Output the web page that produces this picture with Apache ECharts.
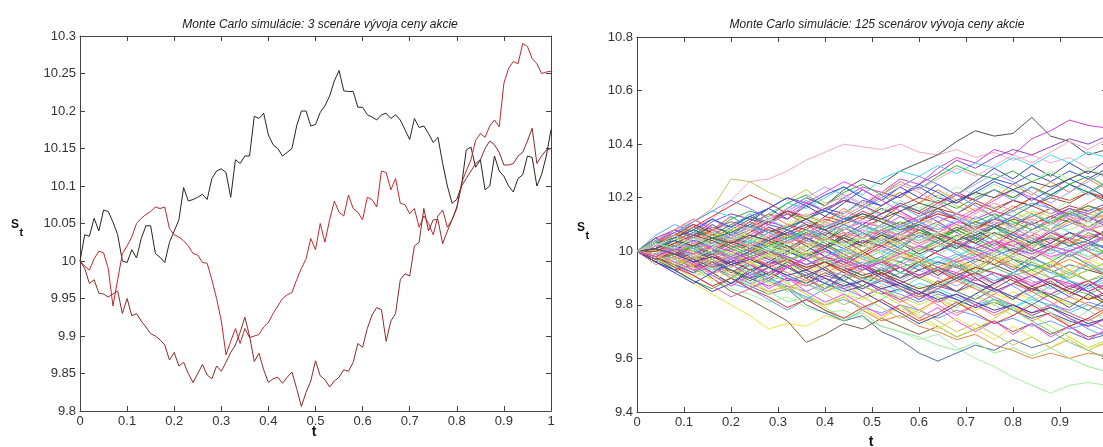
<!DOCTYPE html>
<html><head><meta charset="utf-8">
<script src="https://cdn.jsdelivr.net/npm/echarts@6/dist/echarts.min.js"></script>
<style>html,body{margin:0;padding:0;background:#fff}#c{width:1103px;height:447px}</style>
</head><body><div id="c"></div>
<script>
const leftTitle = 'Monte Carlo simulácie: 3 scenáre vývoja ceny akcie';
const rightTitle = 'Monte Carlo simulácie: 125 scenárov vývoja ceny akcie';
const xAxisName = 't';
const yAxisName = ['S', 't'];

const tLeft = [0,0.01,0.02,0.03,0.04,0.05,0.06,0.07,0.08,0.09,0.1,0.11,0.12,0.13,0.14,0.15,0.16,0.17,0.18,0.19,0.2,0.21,0.22,0.23,0.24,0.25,0.26,0.27,0.28,0.29,0.3,0.31,0.32,0.33,0.34,0.35,0.36,0.37,0.38,0.39,0.4,0.41,0.42,0.43,0.44,0.45,0.46,0.47,0.48,0.49,0.5,0.51,0.52,0.53,0.54,0.55,0.56,0.57,0.58,0.59,0.6,0.61,0.62,0.63,0.64,0.65,0.66,0.67,0.68,0.69,0.7,0.71,0.72,0.73,0.74,0.75,0.76,0.77,0.78,0.79,0.8,0.81,0.82,0.83,0.84,0.85,0.86,0.87,0.88,0.89,0.9,0.91,0.92,0.93,0.94,0.95,0.96,0.97,0.98,0.99,1];

const leftBlack = [10,10.035,10.033,10.057,10.04,10.068,10.066,10.052,10.035,10,
9.998,10.015,10.004,10.03,10.047,10.047,10.01,10.005,9.998,10.025,
10.04,10.055,10.098,10.08,10.082,10.085,10.089,10.082,10.11,10.12,
10.123,10.118,10.085,10.135,10.13,10.14,10.14,10.193,10.19,10.197,
10.168,10.155,10.15,10.14,10.145,10.15,10.18,10.2,10.2,10.18,
10.182,10.198,10.207,10.22,10.24,10.254,10.227,10.226,10.226,10.205,
10.205,10.195,10.192,10.188,10.195,10.197,10.19,10.195,10.188,10.175,
10.162,10.19,10.178,10.18,10.17,10.158,10.165,10.13,10.1,10.077,
10.082,10.1,10.148,10.152,10.125,10.135,10.095,10.1,10.14,10.12,
10.113,10.1,10.092,10.11,10.115,10.14,10.138,10.1,10.115,10.14,10.175];

const leftRed = [10,9.993,9.988,10.003,10.013,10.011,9.99,9.94,9.975,10.01,
10.02,10.032,10.05,10.057,10.062,10.066,10.072,10.07,10.072,10.043,
10.035,10.032,10.027,10.02,10.01,10.008,9.998,9.997,9.975,9.95,
9.92,9.875,9.893,9.91,9.89,9.91,9.898,9.9,9.902,9.912,
9.918,9.93,9.94,9.95,9.955,9.958,9.975,9.99,10.003,10.03,
10.015,10.05,10.025,10.055,10.08,10.065,10.06,10.088,10.07,10.065,
10.055,10.085,10.082,10.072,10.12,10.118,10.095,10.11,10.077,10.075,
10.063,10.07,10.045,10.06,10.05,10.035,10.06,10.068,10.045,10.055,
10.07,10.104,10.12,10.135,10.161,10.17,10.165,10.18,10.188,10.179,
10.237,10.257,10.266,10.263,10.29,10.286,10.27,10.263,10.25,10.252,10.253];

const leftDarkRed = [10,9.99,9.97,9.975,9.957,9.956,9.952,9.956,9.96,9.93,
9.95,9.927,9.93,9.92,9.912,9.903,9.9,9.895,9.888,9.868,
9.878,9.86,9.865,9.85,9.838,9.85,9.862,9.848,9.843,9.86,
9.853,9.865,9.878,9.888,9.905,9.925,9.9,9.866,9.877,9.855,
9.838,9.843,9.845,9.837,9.845,9.852,9.83,9.806,9.825,9.84,
9.867,9.847,9.842,9.832,9.84,9.845,9.855,9.853,9.865,9.89,
9.885,9.91,9.928,9.938,9.935,9.893,9.92,9.93,9.975,9.983,
9.98,10.02,10.025,10.07,10.04,10.055,10.055,10.023,10.04,10.055,
10.072,10.1,10.11,10.12,10.13,10.135,10.15,10.16,10.155,10.145,
10.128,10.128,10.13,10.14,10.145,10.16,10.177,10.13,10.14,10.148,10.15];

const tRight = [0,0.04,0.08,0.12,0.16,0.2,0.24,0.28,0.32,0.36,0.4,0.44,0.48,0.52,0.56,0.6,0.64,0.68,0.72,0.76,0.8,0.84,0.88,0.92,0.96,1];

const p1=[10,10.03,10.05,10.09,10.12,10.19,10.26,10.27,10.3,10.34,10.37,10.4,10.39,10.38,10.4,10.37,10.36,10.38,10.35,10.37,10.34,10.36,10.33,10.35,10.31,10.33];
const p2=[10,10.04,10.08,10.11,10.16,10.27,10.26,10.22,10.19,10.23,10.18,10.2,10.16,10.19,10.22,10.18,10.21,10.17,10.14,10.18,10.15,10.2,10.17,10.13,10.16,10.12];
const p3=[10,9.98,10.02,10.05,10.03,10.08,10.12,10.1,10.16,10.2,10.17,10.23,10.27,10.25,10.3,10.33,10.36,10.41,10.45,10.43,10.44,10.5,10.43,10.41,10.36,10.38];
const p4=[10,10.02,9.99,10.03,10.07,10.05,10.1,10.14,10.12,10.18,10.15,10.2,10.24,10.22,10.27,10.25,10.31,10.35,10.33,10.38,10.36,10.42,10.45,10.49,10.47,10.46];
const p5=[10,9.97,9.95,9.92,9.9,9.86,9.84,9.81,9.83,9.79,9.77,9.78,9.75,9.72,9.7,9.67,9.69,9.64,9.6,9.57,9.53,9.5,9.47,9.5,9.51,9.5];
const p6=[10,9.96,9.93,9.88,9.84,9.8,9.76,9.71,9.73,9.72,9.76,9.74,9.78,9.75,9.8,9.77,9.82,9.79,9.83,9.8,9.85,9.82,9.84,9.8,9.83,9.81];
const p7=[10,9.97,9.93,9.95,9.9,9.85,9.82,9.78,9.74,9.66,9.69,9.73,9.71,9.75,9.72,9.69,9.72,9.68,9.71,9.74,9.7,9.73,9.69,9.72,9.68,9.7];
const p8=[10,10.01,9.97,9.94,9.95,9.9,9.87,9.84,9.86,9.8,9.77,9.74,9.76,9.7,9.67,9.62,9.59,9.62,9.65,9.63,9.67,9.64,9.66,9.7,9.67,9.69];
const p9=[10,9.98,9.99,9.95,9.92,9.93,9.88,9.85,9.87,9.82,9.8,9.83,9.78,9.74,9.76,9.72,9.7,9.67,9.69,9.65,9.63,9.6,9.62,9.6,9.62,9.61];
const p10=[10,9.99,9.95,9.97,9.92,9.88,9.9,9.85,9.81,9.83,9.79,9.75,9.77,9.72,9.7,9.68,9.65,9.63,9.66,9.62,9.64,9.61,9.64,9.6,9.57,9.55];
const p11=[10,10.04,10.06,10.03,10.08,10.11,10.09,10.14,10.18,10.16,10.2,10.24,10.21,10.27,10.3,10.28,10.32,10.29,10.33,10.31,10.35,10.32,10.36,10.33,10.37,10.35];
const p12=[10,10.02,10.05,10.09,10.07,10.12,10.15,10.13,10.18,10.21,10.17,10.22,10.25,10.21,10.26,10.23,10.28,10.32,10.29,10.27,10.3,10.26,10.29,10.25,10.28,10.24];
const p13=[10,10.05,10.08,10.06,10.11,10.14,10.12,10.16,10.2,10.18,10.15,10.19,10.17,10.22,10.2,10.25,10.29,10.34,10.31,10.35,10.38,10.36,10.39,10.42,10.4,10.43];
const p14=[10,10.03,10.01,10.06,10.04,10.09,10.13,10.1,10.08,10.12,10.16,10.14,10.19,10.17,10.21,10.24,10.2,10.18,10.23,10.27,10.25,10.29,10.26,10.3,10.27,10.31];
const p15=[10,9.97,10.01,10.04,10.02,10.06,10.03,10.07,10.1,10.08,10.13,10.11,10.15,10.12,10.17,10.14,10.18,10.22,10.19,10.23,10.2,10.24,10.21,10.19,10.22,10.2];
const p16=[10,10.02,9.99,10.01,9.97,10,10.04,10.02,10.06,10.03,10.01,10.05,10.08,10.06,10.1,10.07,10.04,10.08,10.05,10.09,10.12,10.1,10.07,10.11,10.08,10.1];
const p17=[10,9.98,9.96,9.99,9.95,9.97,9.93,9.96,9.94,9.9,9.93,9.91,9.95,9.92,9.89,9.93,9.9,9.87,9.91,9.88,9.92,9.89,9.86,9.89,9.87,9.9];
const p18=[10,10.03,10.05,10.02,10.06,10.04,10.01,10.03,9.99,10.02,10.05,10.03,10.07,10.04,10.01,9.98,10.02,10,9.96,9.99,10.03,10,9.97,10.01,9.98,10];
const p19=[10,9.99,10.02,10,9.97,9.94,9.97,9.95,9.99,10.02,9.98,10.01,9.97,9.95,9.98,9.96,10,10.03,10.01,10.04,10.02,10.06,10.03,10.07,10.05,10.08];
const p20=[10,10.01,10.04,10.07,10.05,10.09,10.06,10.03,10.06,10.04,10.08,10.05,10.02,10.05,10.09,10.12,10.1,10.14,10.11,10.08,10.12,10.15,10.13,10.16,10.14,10.17];
const p21=[10,9.97,9.95,9.92,9.94,9.91,9.88,9.9,9.87,9.85,9.88,9.86,9.83,9.86,9.84,9.81,9.84,9.82,9.79,9.82,9.8,9.77,9.8,9.78,9.81,9.79];
const p22=[10,10.02,10,10.03,10.01,9.98,10.01,9.99,9.96,9.99,10.02,10,10.04,10.01,10.05,10.02,10.06,10.09,10.07,10.04,10.07,10.05,10.02,10.05,10.03,10.06];
const p23=[10,10.04,10.02,10.06,10.09,10.07,10.11,10.08,10.05,10.08,10.06,10.1,10.07,10.03,10.06,10.04,10.07,10.04,10,10.03,10,10.04,10.01,9.98,10.01,9.99];
const p24=[10,9.98,10.01,9.98,9.96,9.99,9.96,9.93,9.96,9.94,9.91,9.94,9.97,9.95,9.92,9.95,9.93,9.96,9.99,9.97,9.94,9.97,9.95,9.98,9.96,9.99];
const p25=[10,10.01,9.98,9.95,9.98,9.96,9.99,10.03,10,10.04,10.07,10.05,10.09,10.12,10.1,10.13,10.16,10.14,10.18,10.15,10.19,10.17,10.2,10.18,10.22,10.19];
const p26=[10,9.99,9.96,9.93,9.91,9.88,9.86,9.89,9.86,9.83,9.8,9.82,9.79,9.77,9.8,9.78,9.75,9.78,9.76,9.73,9.75,9.72,9.74,9.71,9.73,9.7];
const p27=[10,10.03,10.06,10.04,10.01,10.04,10.02,10.06,10.03,10.07,10.1,10.08,10.11,10.09,10.13,10.11,10.08,10.11,10.09,10.06,10.09,10.07,10.04,10.07,10.05,10.08];
const p28=[10,9.98,9.95,9.97,10,9.98,10.01,9.99,9.96,9.93,9.96,9.94,9.91,9.89,9.92,9.9,9.87,9.9,9.88,9.85,9.88,9.86,9.83,9.86,9.84,9.87];
const p29=[10,10.02,10.05,10.03,10.06,10.1,10.08,10.05,10.09,10.13,10.11,10.15,10.12,10.16,10.14,10.11,10.14,10.12,10.16,10.13,10.17,10.14,10.11,10.15,10.12,10.14];
const p30=[10,10,9.97,9.99,9.96,9.93,9.9,9.92,9.89,9.91,9.88,9.85,9.87,9.84,9.86,9.83,9.85,9.82,9.79,9.81,9.78,9.75,9.77,9.74,9.72,9.75];
const p31=[10,10.03,10.01,9.98,10.01,10.04,10.02,9.99,10.02,10,9.97,10,9.98,10.01,9.99,10.02,10.05,10.03,10,10.03,10.01,9.98,10.01,10.04,10.02,10.05];
const p32=[10,9.97,10,10.02,9.99,10.01,10.04,10.01,10.04,10.07,10.04,10.07,10.05,10.02,10.05,10.08,10.06,10.03,10.06,10.09,10.07,10.1,10.13,10.11,10.14,10.12];
const p33=[10,10.02,9.99,9.97,9.94,9.96,9.93,9.95,9.98,9.95,9.97,9.94,9.91,9.93,9.9,9.93,9.96,9.94,9.97,9.95,9.92,9.95,9.93,9.9,9.93,9.91];
const p34=[10,10.04,10.07,10.1,10.08,10.05,10.08,10.11,10.09,10.12,10.15,10.13,10.1,10.07,10.1,10.08,10.11,10.14,10.12,10.15,10.13,10.1,10.13,10.16,10.14,10.17];
const p35=[10,9.98,9.96,9.93,9.96,9.99,9.97,9.94,9.92,9.95,9.93,9.96,9.94,9.97,10,9.98,9.95,9.98,10.01,9.99,10.02,10,9.97,10,9.98,10.01];
const p36=[10,10.01,10.03,10,10.02,9.99,9.96,9.98,9.95,9.92,9.95,9.92,9.89,9.91,9.88,9.91,9.88,9.85,9.87,9.84,9.82,9.85,9.83,9.8,9.83,9.81];
const p37=[10,10.02,10.04,10.07,10.05,10.03,10.06,10.04,10.07,10.05,10.02,10.05,10.03,10.06,10.04,10.07,10.05,10.08,10.11,10.09,10.12,10.1,10.13,10.11,10.09,10.12];
const p38=[10,9.99,9.97,10,9.98,10.01,10.04,10.02,10,9.97,10,9.98,9.95,9.98,9.96,9.93,9.96,9.94,9.91,9.94,9.97,9.95,9.92,9.95,9.93,9.96];
const p39=[10,10.03,10,10.03,10.06,10.04,10.01,9.98,10.01,10.04,10.01,10.04,10.02,10.05,10.03,10,10.03,10.01,10.04,10.07,10.05,10.02,10.05,10.03,10.06,10.04];
const p40=[10,9.97,9.94,9.97,9.95,9.92,9.95,9.98,9.96,9.99,9.97,10,9.98,9.95,9.98,10.01,9.99,10.02,10,9.97,10,10.03,10.01,9.98,10.01,9.99];
const p41=[10,10.01,9.99,9.96,9.93,9.95,9.92,9.89,9.91,9.88,9.85,9.87,9.9,9.88,9.85,9.88,9.86,9.83,9.8,9.82,9.79,9.82,9.8,9.77,9.8,9.78];
const p42=[10,10.02,10.05,10.08,10.06,10.1,10.13,10.11,10.14,10.12,10.09,10.12,10.1,10.14,10.17,10.15,10.19,10.16,10.2,10.23,10.2,10.24,10.21,10.25,10.22,10.26];
const p43=[10,9.98,9.95,9.92,9.95,9.93,9.9,9.87,9.9,9.88,9.91,9.89,9.86,9.89,9.87,9.84,9.87,9.85,9.88,9.86,9.83,9.86,9.84,9.87,9.85,9.88];
const p44=[10,10.03,10.01,10.04,10.02,10.05,10.03,10,10.03,10.06,10.04,10.01,10.04,10.02,9.99,10.02,10,10.03,10.01,9.98,10.01,9.99,10.02,10,10.03,10.01];
const p45=[10,10,10.03,10.01,10.04,10.07,10.05,10.08,10.06,10.09,10.12,10.1,10.13,10.11,10.08,10.11,10.14,10.12,10.09,10.12,10.1,10.13,10.16,10.14,10.17,10.15];
const p46=[10,9.98,10,9.97,9.99,9.96,9.98,9.95,9.97,9.94,9.96,9.93,9.95,9.92,9.94,9.91,9.93,9.9,9.92,9.89,9.91,9.88,9.9,9.87,9.89,9.86];
const p47=[10,10.02,10.04,10.02,10.05,10.03,10.06,10.04,10.01,10.04,10.02,9.99,10.02,10,10.03,10.01,10.04,10.02,10.05,10.03,10.06,10.04,10.07,10.05,10.08,10.06];
const p48=[10,9.99,9.96,9.98,9.95,9.97,10,9.98,10.01,9.99,10.02,10,9.97,10,9.98,9.95,9.98,9.96,9.99,9.97,9.94,9.97,9.95,9.92,9.95,9.93];
const p49=[10,10.04,10.02,10.05,10.08,10.11,10.09,10.12,10.15,10.13,10.16,10.19,10.17,10.14,10.17,10.2,10.18,10.21,10.19,10.16,10.19,10.17,10.14,10.17,10.15,10.18];
const p50=[10,9.97,9.95,9.98,9.96,9.93,9.91,9.88,9.86,9.89,9.87,9.84,9.82,9.85,9.83,9.8,9.83,9.81,9.78,9.81,9.79,9.76,9.79,9.77,9.74,9.77];
const p51=[10,10.05,10.02,10.07,10.12,10.08,10.04,10.09,10.06,10.11,10.08,10.03,10.07,10.12,10.09,10.05,10.1,10.07,10.13,10.1,10.06,10.11,10.08,10.14,10.11,10.16];
const p52=[10,9.95,9.98,9.93,9.96,9.91,9.95,9.9,9.86,9.9,9.85,9.88,9.83,9.87,9.82,9.78,9.82,9.77,9.8,9.76,9.79,9.74,9.77,9.72,9.75,9.71];
const p53=[10,10.01,10.06,10.03,9.99,10.04,10,10.05,10.02,9.97,10.01,9.96,10,10.05,10.01,10.06,10.03,10.08,10.04,10.09,10.05,10.01,10.06,10.02,10.07,10.04];
const p54=[10,9.99,9.94,9.98,10.03,9.99,10.04,10.01,10.06,10.02,10.07,10.11,10.07,10.12,10.08,10.13,10.09,10.05,10.1,10.06,10.11,10.15,10.11,10.16,10.12,10.17];
const p55=[10,10.03,9.98,9.94,9.97,9.92,9.96,9.91,9.95,9.9,9.94,9.89,9.93,9.97,9.92,9.96,9.91,9.95,9.9,9.86,9.9,9.85,9.89,9.84,9.88,9.83];
const p56=[10,10.06,10.1,10.07,10.12,10.09,10.14,10.1,10.15,10.19,10.15,10.2,10.16,10.21,10.17,10.13,10.18,10.14,10.19,10.23,10.19,10.24,10.2,10.25,10.21,10.26];
const p57=[10,9.96,9.92,9.96,9.91,9.87,9.91,9.86,9.9,9.85,9.81,9.84,9.8,9.76,9.8,9.75,9.79,9.74,9.7,9.74,9.69,9.73,9.68,9.72,9.67,9.71];
const p58=[10,10.02,10.07,10.03,10.08,10.04,10,10.05,10.01,9.97,10.02,9.98,10.03,9.99,10.04,10,10.05,10.02,9.98,10.03,9.99,10.04,10,10.05,10.01,10.06];
const p59=[10,9.98,10.03,9.99,9.95,10,9.96,10.01,9.97,9.93,9.98,9.94,9.99,9.95,10,9.96,9.92,9.97,9.93,9.98,9.94,9.9,9.95,9.91,9.96,9.92];
const p60=[10,10.04,10,10.05,10.1,10.06,10.11,10.16,10.12,10.17,10.13,10.18,10.23,10.19,10.24,10.2,10.25,10.21,10.26,10.31,10.27,10.32,10.28,10.33,10.29,10.34];
const p61=[10,9.97,10.02,10.06,10.02,10.07,10.03,9.99,10.04,10,9.96,10.01,9.97,9.93,9.98,9.94,9.9,9.95,9.91,9.87,9.92,9.88,9.84,9.89,9.85,9.81];
const p62=[10,10.01,9.97,10.02,10.07,10.03,10.08,10.04,10.09,10.14,10.1,10.05,10.1,10.06,10.02,10.07,10.03,10.08,10.04,10,10.05,10.01,10.06,10.02,10.07,10.03];
const p63=[10,9.96,10.01,9.97,9.92,9.88,9.93,9.89,9.94,9.9,9.86,9.91,9.87,9.92,9.88,9.84,9.89,9.85,9.9,9.86,9.82,9.87,9.83,9.79,9.84,9.8];
const p64=[10,10.03,10.08,10.12,10.08,10.13,10.09,10.05,10.1,10.06,10.11,10.07,10.03,10.08,10.04,10.09,10.05,10.01,10.06,10.02,10.07,10.03,10.08,10.04,10.09,10.05];
const p65=[10,9.99,10.04,10,10.05,10.01,10.06,10.02,9.98,10.03,9.99,10.04,10,10.05,10.1,10.06,10.11,10.07,10.12,10.17,10.13,10.18,10.14,10.19,10.24,10.2];
const p66=[10,10.02,9.98,9.94,9.89,9.93,9.89,9.84,9.88,9.84,9.79,9.83,9.79,9.75,9.79,9.75,9.71,9.75,9.71,9.67,9.72,9.68,9.64,9.68,9.64,9.66];
const p67=[10,10.05,10.01,9.97,10.02,9.98,10.03,9.99,10.04,10.08,10.04,10.09,10.05,10.1,10.15,10.11,10.16,10.12,10.08,10.13,10.09,10.14,10.1,10.15,10.11,10.16];
const p68=[10,9.97,9.93,9.98,9.94,9.99,9.95,9.91,9.96,9.92,9.88,9.93,9.89,9.94,9.9,9.95,9.91,9.96,9.92,9.97,9.93,9.98,9.94,9.99,9.95,9.91];
const p69=[10,10.03,10.07,10.03,10.08,10.13,10.09,10.14,10.1,10.06,10.11,10.16,10.12,10.17,10.22,10.18,10.23,10.19,10.15,10.2,10.25,10.21,10.26,10.22,10.27,10.23];
const p70=[10,9.98,9.94,9.9,9.95,9.91,9.87,9.92,9.88,9.93,9.89,9.85,9.9,9.86,9.82,9.87,9.83,9.79,9.84,9.8,9.76,9.81,9.77,9.73,9.78,9.74];
const p71=[10,10.02,10.06,10.11,10.15,10.13,10.09,10.04,10,9.97,10.01,10.05,10.09,10.07,10.03,9.99,9.95,9.98,10.02,10.06,10.1,10.14,10.11,10.07,10.04,10.08];
const p72=[10,9.98,9.93,9.89,9.86,9.9,9.95,9.99,10.04,10.07,10.03,9.99,9.95,9.92,9.96,10,10.04,10.08,10.05,10.01,9.97,9.93,9.96,10,10.03,9.99];
const p73=[10,10.04,10.08,10.05,10.01,9.97,9.93,9.9,9.94,9.98,10.02,10.06,10.1,10.14,10.18,10.15,10.11,10.07,10.03,10,10.04,10.08,10.12,10.16,10.13,10.09];
const p74=[10,9.96,9.92,9.88,9.92,9.96,10,10.04,10.08,10.05,10.01,9.97,9.94,9.9,9.86,9.82,9.86,9.9,9.94,9.98,9.95,9.91,9.87,9.83,9.87,9.91];
const p75=[10,10.01,10.05,10.09,10.13,10.17,10.21,10.18,10.14,10.1,10.06,10.02,9.98,10.02,10.06,10.1,10.07,10.03,9.99,9.95,9.99,10.03,10.07,10.04,10,9.96];
const p76=[10,9.99,9.95,9.91,9.87,9.83,9.86,9.9,9.94,9.98,10.02,9.99,9.95,9.91,9.87,9.84,9.8,9.76,9.8,9.84,9.88,9.85,9.81,9.77,9.74,9.78];
const p77=[10,10.03,10,9.96,10,10.04,10.08,10.12,10.16,10.2,10.24,10.21,10.17,10.13,10.09,10.13,10.17,10.21,10.25,10.29,10.26,10.22,10.18,10.22,10.26,10.3];
const p78=[10,9.97,10.01,10.05,10.02,9.98,9.94,9.9,9.86,9.82,9.78,9.74,9.78,9.82,9.86,9.9,9.94,9.91,9.87,9.83,9.79,9.83,9.87,9.91,9.95,9.92];
const p79=[10,10.02,10.05,10.02,9.98,10.01,10.05,10.09,10.06,10.02,9.98,9.95,9.99,10.03,10.07,10.11,10.15,10.12,10.08,10.04,10,9.97,10.01,10.05,10.09,10.13];
const p80=[10,10,9.96,9.92,9.95,9.99,9.96,9.92,9.88,9.84,9.8,9.83,9.87,9.84,9.8,9.76,9.72,9.68,9.71,9.75,9.79,9.76,9.72,9.68,9.64,9.67];
const p81=[10,10.04,10.07,10.11,10.15,10.19,10.16,10.12,10.08,10.04,10.08,10.12,10.16,10.2,10.24,10.28,10.25,10.21,10.17,10.13,10.09,10.05,10.01,9.98,10.02,10.06];
const p82=[10,9.98,9.95,9.99,10.03,10.07,10.11,10.08,10.04,10,9.96,9.92,9.89,9.85,9.81,9.84,9.88,9.92,9.96,10,10.04,10.01,9.97,9.93,9.89,9.85];
const p83=[10,10.01,10.04,10.01,9.97,9.93,9.89,9.92,9.96,10,10.04,10.08,10.12,10.16,10.13,10.09,10.05,10.01,10.05,10.09,10.13,10.17,10.21,10.25,10.22,10.18];
const p84=[10,9.97,9.94,9.9,9.94,9.98,10.02,10.06,10.1,10.14,10.11,10.07,10.03,9.99,9.95,9.91,9.87,9.91,9.95,9.99,9.96,9.92,9.88,9.84,9.8,9.76];
const p85=[10,10.03,10.06,10.1,10.07,10.03,10.07,10.11,10.15,10.12,10.08,10.04,10,9.96,9.92,9.96,10,10.04,10.08,10.12,10.16,10.2,10.17,10.13,10.09,10.05];
const p86=[10,9.99,10.02,9.98,9.94,9.9,9.86,9.82,9.78,9.82,9.86,9.9,9.94,9.98,10.02,10.06,10.03,9.99,9.95,9.91,9.87,9.83,9.79,9.75,9.71,9.68];
const p87=[10,10.02,9.99,9.95,9.98,10.02,10.06,10.1,10.14,10.18,10.22,10.26,10.23,10.19,10.15,10.11,10.07,10.11,10.15,10.19,10.23,10.2,10.16,10.12,10.08,10.12];
const p88=[10,9.98,9.94,9.97,10.01,10.05,10.02,9.98,9.94,9.9,9.86,9.89,9.93,9.97,10.01,9.98,9.94,9.9,9.86,9.82,9.78,9.74,9.7,9.66,9.63,9.6];
const p89=[10,10.04,10.08,10.12,10.09,10.05,10.01,9.97,10.01,10.05,10.09,10.13,10.17,10.21,10.25,10.22,10.18,10.14,10.1,10.06,10.02,10.06,10.1,10.14,10.18,10.22];
const p90=[10,9.96,9.93,9.89,9.85,9.88,9.92,9.96,10,9.97,9.93,9.89,9.85,9.81,9.77,9.73,9.76,9.8,9.84,9.88,9.92,9.96,9.93,9.89,9.85,9.81];
const p91=[10,10.01,10.03,10.06,10.02,10.05,10.09,10.07,10.03,10.06,10.11,10.08,10.12,10.09,10.05,10.08,10.13,10.1,10.14,10.18,10.15,10.11,10.16,10.13,10.09,10.12];
const p92=[10,9.99,10.03,10,9.96,9.99,9.95,9.98,10.02,9.99,9.94,9.97,9.93,9.96,10,9.97,9.92,9.95,9.91,9.94,9.98,9.95,9.9,9.93,9.89,9.92];
const p93=[10,10.03,10.01,9.97,10,10.04,10.01,10.05,10.02,9.98,10.01,10.05,10.02,10.06,10.03,9.99,10.02,10.06,10.03,10.07,10.04,10,10.03,10.07,10.04,10.08];
const p94=[10,9.97,9.99,9.96,9.92,9.95,9.91,9.94,9.9,9.87,9.9,9.86,9.89,9.85,9.82,9.85,9.81,9.84,9.8,9.77,9.8,9.76,9.79,9.75,9.72,9.75];
const p95=[10,10.02,10.05,10.03,10.07,10.04,10.08,10.12,10.09,10.13,10.1,10.14,10.18,10.15,10.19,10.16,10.2,10.24,10.21,10.25,10.22,10.26,10.3,10.27,10.31,10.28];
const p96=[10,9.98,10,9.97,10.01,9.98,9.95,9.99,9.96,10,9.97,9.94,9.98,9.95,9.99,9.96,9.93,9.97,9.94,9.98,9.95,9.92,9.96,9.93,9.97,9.94];
const p97=[10,10.01,9.98,10.02,9.99,10.03,10,10.04,10.01,10.05,10.02,10.06,10.03,10.07,10.04,10.08,10.05,10.09,10.06,10.1,10.07,10.11,10.08,10.12,10.09,10.13];
const p98=[10,9.98,9.95,9.92,9.96,9.93,9.9,9.94,9.91,9.88,9.92,9.89,9.86,9.9,9.87,9.84,9.88,9.85,9.82,9.86,9.83,9.8,9.84,9.81,9.78,9.82];
const p99=[10,10.03,10.06,10.09,10.06,10.03,10,10.03,10.06,10.03,10,9.97,10,10.03,10,9.97,9.94,9.97,10,9.97,9.94,9.91,9.94,9.97,9.94,9.91];
const p100=[10,9.99,9.97,10,10.04,10.07,10.04,10.01,10.05,10.08,10.05,10.02,10.06,10.09,10.06,10.03,10.07,10.1,10.07,10.04,10.08,10.11,10.08,10.05,10.09,10.12];
const p101=[10,10.02,10.04,10.01,9.98,10.01,10.04,10.01,9.98,9.95,9.98,10.01,9.98,9.95,9.92,9.95,9.98,9.95,9.92,9.89,9.92,9.95,9.92,9.89,9.86,9.89];
const p102=[10,9.97,9.99,10.02,10.05,10.02,9.99,10.02,10.05,10.08,10.05,10.02,10.05,10.08,10.11,10.08,10.05,10.08,10.11,10.14,10.11,10.08,10.11,10.14,10.17,10.14];
const p103=[10,10.03,10,9.97,9.94,9.97,10,9.97,9.94,9.91,9.94,9.97,9.94,9.91,9.88,9.91,9.94,9.91,9.88,9.85,9.88,9.91,9.88,9.85,9.82,9.85];
const p104=[10,10.01,10.05,10.08,10.12,10.09,10.13,10.16,10.2,10.17,10.21,10.24,10.2,10.17,10.21,10.25,10.22,10.18,10.22,10.26,10.23,10.19,10.23,10.27,10.24,10.2];
const p105=[10,9.98,9.94,9.91,9.87,9.9,9.86,9.83,9.79,9.82,9.78,9.75,9.79,9.82,9.78,9.74,9.77,9.81,9.77,9.73,9.76,9.8,9.76,9.72,9.75,9.79];
const p106=[10,10.02,10,10.03,10.01,10.04,10.02,10.05,10.03,10.06,10.04,10.07,10.05,10.08,10.06,10.03,10.06,10.04,10.01,10.04,10.02,9.99,10.02,10,9.97,10];
const p107=[10,9.99,10.01,9.98,10,9.97,9.99,9.96,9.98,9.95,9.97,9.94,9.96,9.93,9.95,9.98,9.96,9.99,9.97,10,9.98,10.01,9.99,10.02,10,10.03];
const p108=[10,10.04,10.01,10.05,10.02,10.06,10.03,10.07,10.04,10.08,10.05,10.09,10.06,10.1,10.07,10.11,10.08,10.12,10.09,10.13,10.1,10.14,10.11,10.15,10.12,10.16];
const p109=[10,9.97,10,9.96,9.99,9.95,9.98,9.94,9.97,9.93,9.96,9.92,9.95,9.91,9.94,9.9,9.93,9.89,9.92,9.88,9.91,9.87,9.9,9.86,9.89,9.85];
const p110=[10,10.02,10.05,10.02,10.05,10.08,10.05,10.02,9.99,10.02,10.05,10.02,9.99,9.96,9.99,10.02,9.99,9.96,9.93,9.96,9.99,9.96,9.93,9.9,9.93,9.96];
const p111=[10,9.98,10.01,10.04,10.01,9.98,10.01,10.04,10.07,10.04,10.07,10.1,10.07,10.04,10.07,10.1,10.13,10.1,10.07,10.1,10.13,10.1,10.07,10.1,10.13,10.1];
const p112=[10,10.01,9.98,9.95,9.98,10.01,9.98,9.95,9.92,9.89,9.92,9.95,9.92,9.89,9.86,9.83,9.86,9.89,9.86,9.83,9.8,9.77,9.8,9.83,9.8,9.77];
const p113=[10,10.03,10.05,10.08,10.05,10.07,10.1,10.07,10.09,10.12,10.15,10.12,10.14,10.11,10.08,10.1,10.07,10.04,10.06,10.09,10.06,10.03,10.05,10.02,10.04,10.01];
const p114=[10,9.98,9.96,9.99,9.97,9.94,9.96,9.99,10.01,9.98,9.96,9.99,10.02,10.05,10.03,10,10.02,10.05,10.08,10.06,10.03,10.05,10.08,10.11,10.09,10.06];
const p115=[10,10,10.03,10.06,10.04,10.01,9.98,10,9.97,9.94,9.96,9.93,9.9,9.92,9.89,9.86,9.88,9.91,9.94,9.92,9.89,9.86,9.88,9.85,9.82,9.84];
const p116=[10,10.02,10.04,10.01,10.03,10.06,10.09,10.07,10.04,10.06,10.09,10.12,10.1,10.07,10.09,10.12,10.15,10.13,10.1,10.12,10.15,10.18,10.16,10.13,10.15,10.18];
const p117=[10,9.99,9.96,9.93,9.95,9.98,9.95,9.92,9.94,9.97,10,9.97,9.94,9.96,9.99,10.02,9.99,9.96,9.98,10.01,10.04,10.01,9.98,10,10.03,10.06];
const p118=[10,10.03,10,10.02,9.99,10.01,9.98,10,9.97,9.99,9.96,9.98,9.95,9.97,9.94,9.96,9.93,9.95,9.92,9.94,9.91,9.93,9.9,9.92,9.89,9.91];
const p119=[10,9.98,10,10.03,10.01,10.04,10.02,10.05,10.03,10.06,10.04,10.07,10.05,10.08,10.06,10.09,10.07,10.1,10.08,10.11,10.09,10.12,10.1,10.13,10.11,10.14];
const p120=[10,10.01,9.99,9.96,9.98,9.95,9.97,9.94,9.91,9.93,9.9,9.87,9.89,9.86,9.88,9.85,9.82,9.84,9.81,9.78,9.8,9.77,9.79,9.76,9.73,9.75];
const p121=[10,10.02,10.06,10.03,10.07,10.11,10.08,10.12,10.16,10.13,10.17,10.21,10.18,10.22,10.26,10.23,10.27,10.31,10.28,10.32,10.36,10.33,10.37,10.41,10.38,10.42];
const p122=[10,9.99,9.95,9.98,9.94,9.9,9.93,9.89,9.85,9.88,9.84,9.8,9.83,9.79,9.75,9.78,9.74,9.7,9.73,9.69,9.65,9.68,9.64,9.67,9.63,9.66];
const p123=[10,10.01,10.04,10.02,10.05,10.03,10.06,10.04,10.07,10.1,10.08,10.11,10.14,10.12,10.15,10.18,10.16,10.19,10.22,10.2,10.23,10.26,10.24,10.27,10.3,10.28];
const p124=[10,9.98,10.01,9.99,10.02,10,9.97,10,9.98,9.95,9.98,9.96,9.93,9.96,9.94,9.91,9.94,9.92,9.89,9.92,9.9,9.87,9.9,9.88,9.85,9.88];
const p125=[10,10.03,10.01,10.05,10.02,9.99,10.02,10,10.03,10.01,10.04,10.02,10.05,10.03,10.06,10.04,10.07,10.05,10.08,10.06,10.09,10.07,10.1,10.08,10.11,10.09];

const rightPaths=[p1,p2,p3,p4,p5,p6,p7,p8,p9,p10,p11,p12,p13,p14,p15,p16,p17,p18,p19,p20,p21,p22,p23,p24,p25,p26,p27,p28,p29,p30,p31,p32,p33,p34,p35,p36,p37,p38,p39,p40,p41,p42,p43,p44,p45,p46,p47,p48,p49,p50,p51,p52,p53,p54,p55,p56,p57,p58,p59,p60,p61,p62,p63,p64,p65,p66,p67,p68,p69,p70,p71,p72,p73,p74,p75,p76,p77,p78,p79,p80,p81,p82,p83,p84,p85,p86,p87,p88,p89,p90,p91,p92,p93,p94,p95,p96,p97,p98,p99,p100,p101,p102,p103,p104,p105,p106,p107,p108,p109,p110,p111,p112,p113,p114,p115,p116,p117,p118,p119,p120,p121,p122,p123,p124,p125];

const rightPalette=['#f4a6c8','#c8c060','#505050','#d040d0','#a8f0a0','#f0e040','#806040','#5070a0','#e88040','#98e898','#40d8f0','#30b030','#9040c0','#3050e0','#e03030','#f060b0','#a0a0f0','#60e0c0','#b03060','#c0f040','#8080ff','#ff8060','#208080','#e0e080','#a04020','#60a0ff','#ff40ff','#70c070','#ff9090','#4040a0'];

const leftColors=['#2e2222','#c0282e','#8e2a2a'];

const chart = echarts.init(document.getElementById('c'), null, {renderer:'canvas'});
const FONT = 'Liberation Sans, Arial, Helvetica, sans-serif';
const AX = '#444';
function fmt(v){ return String(+(+v).toFixed(2)); }
function xAxes(gi){
  const base = {type:'value', gridIndex:gi, min:0, max:1, interval:0.1,
    axisLine:{show:true,onZero:false,lineStyle:{color:AX,width:1}},
    axisTick:{show:true,inside:true,length:5,lineStyle:{color:AX}},
    splitLine:{show:false}};
  return [
    Object.assign({}, base, {position:'bottom', axisLabel:{show:true,margin:4,color:'#333',fontSize:13,fontFamily:FONT,formatter:fmt,showMinLabel:true,showMaxLabel:true}}),
    Object.assign({}, base, {position:'top', axisLabel:{show:false}})
  ];
}
function yAxes(gi, mn, mx, iv){
  const base = {type:'value', gridIndex:gi, min:mn, max:mx, interval:iv,
    axisLine:{show:true,onZero:false,lineStyle:{color:AX,width:1}},
    axisTick:{show:true,inside:true,length:5,lineStyle:{color:AX}},
    splitLine:{show:false}};
  return [
    Object.assign({}, base, {position:'left', axisLabel:{show:true,margin:4,color:'#333',fontSize:13,fontFamily:FONT,formatter:fmt,showMinLabel:true,showMaxLabel:true}}),
    Object.assign({}, base, {position:'right', axisLabel:{show:false}})
  ];
}

const series = [];
[leftBlack, leftRed, leftDarkRed].forEach((arr, k) => {
  series.push({type:'line', xAxisIndex:0, yAxisIndex:0, showSymbol:false, symbol:'none', silent:true,
    lineStyle:{width:1, color:leftColors[k]}, data: tLeft.map((t,i)=>[t, arr[i]])});
});
rightPaths.forEach((arr, k) => {
  series.push({type:'line', xAxisIndex:2, yAxisIndex:2, showSymbol:false, symbol:'none', silent:true,
    lineStyle:{width:1, color:rightPalette[k % rightPalette.length]}, data: tRight.map((t,i)=>[t, arr[i]])});
});

function nameTexts(cx, tY, sx, sY){
  return [
    {type:'text', x:cx, y:tY, style:{text:xAxisName, font:'bold 14px '+FONT, fill:'#111', align:'center', verticalAlign:'middle'}},
    {type:'text', x:sx, y:sY, style:{text:yAxisName[0], font:'bold 12px '+FONT, fill:'#111', align:'left', verticalAlign:'alphabetic'}},
    {type:'text', x:sx+8.5, y:sY+8, style:{text:yAxisName[1], font:'bold 11px '+FONT, fill:'#111', align:'left', verticalAlign:'alphabetic'}}
  ];
}

chart.setOption({
  animation:false,
  backgroundColor:'#fff',
  title:[
    {text:leftTitle, left:315, top:14, textAlign:'center', textStyle:{fontSize:12, fontStyle:'italic', fontWeight:'normal', color:'#222', fontFamily:FONT}},
    {text:rightTitle, left:872, top:14, textAlign:'center', textStyle:{fontSize:12, fontStyle:'italic', fontWeight:'normal', color:'#222', fontFamily:FONT}}
  ],
  grid:[
    {left:80, top:36, width:471, height:375, containLabel:false, outerBoundsMode:'none'},
    {left:637, top:37, width:470, height:375, containLabel:false, outerBoundsMode:'none'}
  ],
  xAxis: xAxes(0).concat(xAxes(1)),
  yAxis: yAxes(0, 9.8, 10.3, 0.05).concat(yAxes(1, 9.4, 10.8, 0.2)),
  series: series,
  graphic: nameTexts(314, 432, 11, 219).concat(nameTexts(871, 442, 577, 222))
});
</script></body></html>
